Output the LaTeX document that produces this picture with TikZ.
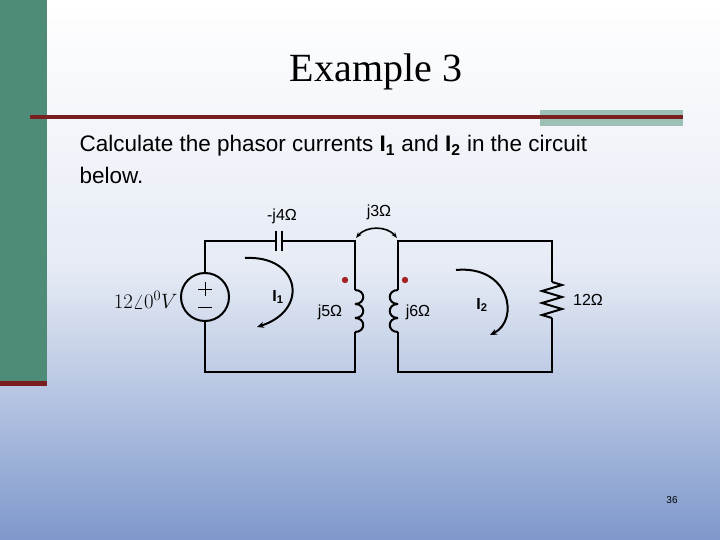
\documentclass[tikz,border=0pt]{standalone}
\usepackage{fontspec}
\setsansfont{Liberation Sans}
\setmainfont{Liberation Serif}
\usetikzlibrary{arrows.meta}
\definecolor{barGreen}{HTML}{4F8C78}
\definecolor{lineRed}{HTML}{7A1F1F}
\definecolor{boxGreen}{HTML}{9DC0B4}
\definecolor{bgBlue}{HTML}{7E98CB}
\definecolor{dotRed}{HTML}{A32222}
\tikzset{
  wire/.style={line width=2pt},
  mesh/.style={line width=2pt,-{Stealth[length=7pt,width=6pt]}},
  lbl/.style={font=\sffamily\fontsize{16}{18}\selectfont},
}
\begin{document}
\begin{tikzpicture}[x=1pt,y=-1pt]
  % Slide background
  \shade[top color=white,bottom color=bgBlue,middle color=white!80!bgBlue] (0,0) rectangle (720,540);
  \useasboundingbox (0,0) rectangle (720,540);
  \fill[barGreen] (0,0) rectangle (47,383);
  \fill[lineRed] (0,381) rectangle (47,386);
  \fill[boxGreen] (540,110) rectangle (683,126);
  \fill[lineRed] (30,115.5) rectangle (683,119);

  % Title and question
  \node[font=\fontsize{40}{44}\selectfont] (title) at (376,72) {Example 3};
  \node[anchor=north west,align=left,font=\sffamily\fontsize{22.5}{32}\selectfont] (task) at (76,132)
    {Calculate the phasor currents \textbf{I\textsubscript{1}} and \textbf{I\textsubscript{2}} in the circuit\\below.};

  % Circuit nodes
  \coordinate (tl) at (205,241);
  \coordinate (bl) at (205,372);
  \coordinate (c1) at (276,241);
  \coordinate (c2) at (282,241);
  \coordinate (t1) at (355,241);
  \coordinate (b1) at (355,372);
  \coordinate (t2) at (398,241);
  \coordinate (b2) at (398,372);
  \coordinate (tr) at (552,241);
  \coordinate (br) at (552,372);
  \node[draw,circle,wire,minimum size=48pt,inner sep=0pt] (src) at (205,297) {};

  % Left mesh
  \draw[wire] (src.south) -- (bl) -- (b1) -- (355,332);
  \draw[wire] (src.north) -- (tl) -- (c1);
  \draw[wire] (c2) -- (t1) -- (355,290);
  \draw[wire] (c1) ++(0,-10) -- ++(0,20);
  \draw[wire] (c2) ++(0,-10) -- ++(0,20);
  \foreach \k in {0,1,2}
    \draw[wire] (355,290+14*\k) .. controls (366,290+14*\k) and (366,304+14*\k) .. (355,304+14*\k);
  % Right mesh
  \draw[wire] (398,290) -- (t2) -- (tr) -- (552,282);
  \draw[wire] (398,332) -- (b2) -- (br) -- (552,318);
  \foreach \k in {0,1,2}
    \draw[wire] (398,290+14*\k) .. controls (387,290+14*\k) and (387,304+14*\k) .. (398,304+14*\k);
  \draw[wire] (552,282) -- (562,285) -- (542,291) -- (562,297) -- (542,303) -- (562,309) -- (542,315) -- (552,318);

  % Source signs
  \draw[line width=0.8pt] (src.center) ++(-7,-8) -- ++(14,0);
  \draw[line width=0.8pt] (src.center) ++(0,-15) -- ++(0,14);
  \draw[line width=0.8pt] (src.center) ++(-7,10) -- ++(14,0);

  % Dots and coupling arrow
  \fill[dotRed] (345,280) circle (3.2);
  \fill[dotRed] (405,280) circle (3.2);
  \draw[line width=1.6pt,{Stealth[length=6pt]}-{Stealth[length=6pt]}] (356,238) to[bend left=50] (397,238);

  % Mesh currents
  \draw[mesh] (245,258) .. controls (300,255) and (310,310) .. (257,327);
  \draw[mesh] (456,270) .. controls (510,265) and (520,320) .. (490,335);

  % Labels
  \node[lbl] (lc) at (282,216) {-j4Ω};
  \node[lbl] (lm) at (379,212) {j3Ω};
  \node[lbl] (l1) at (330,312) {j5Ω};
  \node[lbl] (l2) at (418,312) {j6Ω};
  \node[lbl] (lr) at (588,300) {12Ω};
  \node[lbl] (i1) at (278,297) {\textbf{I\textsubscript{1}}};
  \node[lbl] (i2) at (482,305) {\textbf{I\textsubscript{2}}};
  \node[anchor=east,font=\fontsize{21}{24}\selectfont] (vs) at (181,300) {$12\angle 0^{0}V$};
  \node[font=\sffamily\fontsize{10}{12}\selectfont] (pg) at (672,500) {36};
\end{tikzpicture}
\end{document}
